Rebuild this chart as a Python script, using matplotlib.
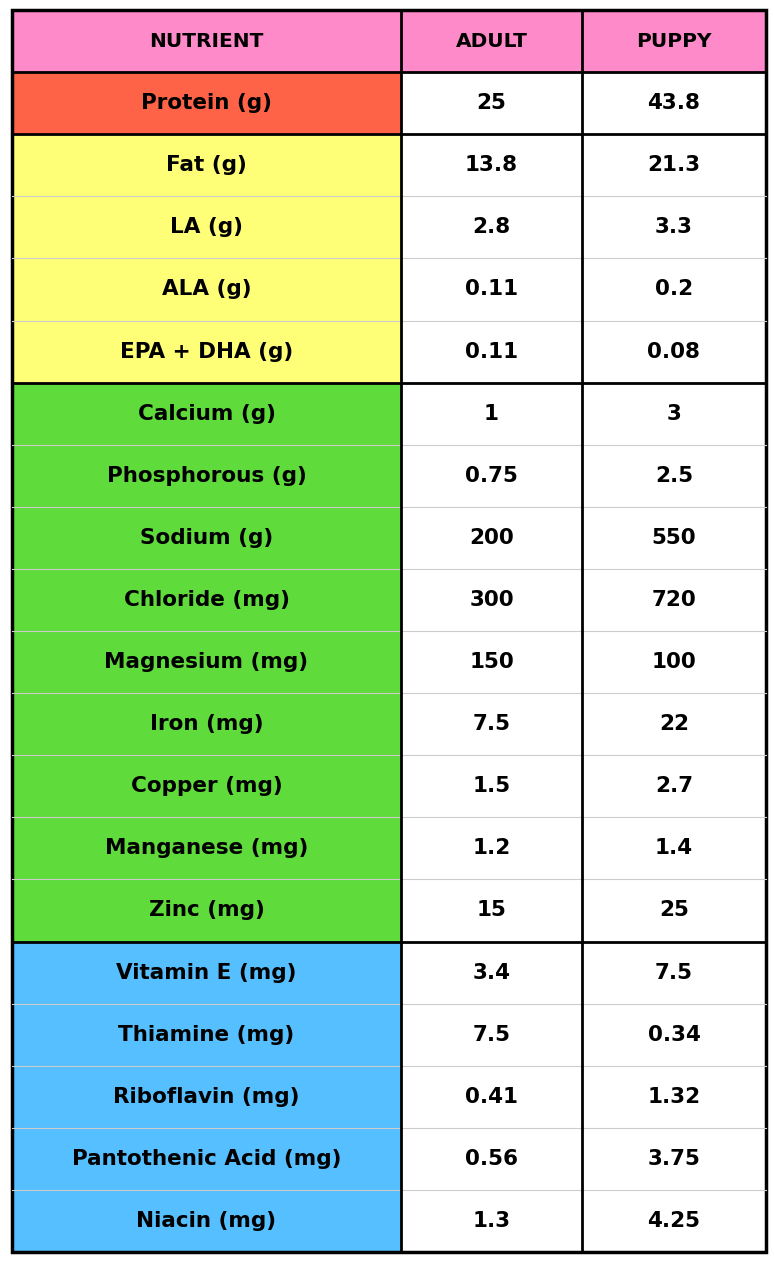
import matplotlib.pyplot as plt
from matplotlib.patches import Rectangle

header = ["NUTRIENT", "ADULT", "PUPPY"]
nutrients = ["Protein (g)", "Fat (g)", "LA (g)", "ALA (g)", "EPA + DHA (g)",
             "Calcium (g)", "Phosphorous (g)", "Sodium (g)", "Chloride (mg)",
             "Magnesium (mg)", "Iron (mg)", "Copper (mg)", "Manganese (mg)",
             "Zinc (mg)", "Vitamin E (mg)", "Thiamine (mg)", "Riboflavin (mg)",
             "Pantothenic Acid (mg)", "Niacin (mg)"]
adult = ["25", "13.8", "2.8", "0.11", "0.11", "1", "0.75", "200", "300", "150",
         "7.5", "1.5", "1.2", "15", "3.4", "7.5", "0.41", "0.56", "1.3"]
puppy = ["43.8", "21.3", "3.3", "0.2", "0.08", "3", "2.5", "550", "720", "100",
         "22", "2.7", "1.4", "25", "7.5", "0.34", "1.32", "3.75", "4.25"]
group_sizes = [1, 4, 9, 5]
group_colors = ["#FF6347", "#FFFF77", "#5FDB3B", "#55BFFF"]
header_color = "#FF8AC9"

W, H = 774, 1262
fig = plt.figure(figsize=(W / 100, H / 100), dpi=100)
ax = fig.add_axes([0, 0, 1, 1])
ax.set_xlim(0, W)
ax.set_ylim(H, 0)
ax.axis("off")

x0, x1, x2, x3 = 12, 401, 582, 766
top, bottom = 10, 1252
n = len(nutrients) + 1
rh = (bottom - top) / n
font = dict(family="DejaVu Sans", weight="bold", fontsize=15.5, ha="center", va="center")

# row colours per group
colors = []
for size, c in zip(group_sizes, group_colors):
    colors += [c] * size

# header
for xa, xb in [(x0, x1), (x1, x2), (x2, x3)]:
    ax.add_patch(Rectangle((xa, top), xb - xa, rh, color=header_color, lw=0))
for (xa, xb), t in zip([(x0, x1), (x1, x2), (x2, x3)], header):
    ax.text((xa + xb) / 2, top + rh / 2, t, **dict(font, fontsize=14.5))

for i, name in enumerate(nutrients):
    y = top + rh * (i + 1)
    ax.add_patch(Rectangle((x0, y), x1 - x0, rh, color=colors[i], lw=0))
    ax.add_patch(Rectangle((x1, y), x3 - x1, rh, color="white", lw=0))
    ax.text((x0 + x1) / 2, y + rh / 2, name, **font)
    ax.text((x1 + x2) / 2, y + rh / 2, adult[i], **font)
    ax.text((x2 + x3) / 2, y + rh / 2, puppy[i], **font)
    ax.plot([x0, x3], [y, y], color="#cccccc", lw=0.8)

# thick borders: header and group boundaries
idx = 1
ax.plot([x0, x3], [top + rh, top + rh], color="black", lw=2)
for size in group_sizes[:-1]:
    idx += size
    yb = top + rh * idx
    ax.plot([x0, x3], [yb, yb], color="black", lw=2)
for xv in [x1, x2]:
    ax.plot([xv, xv], [top, bottom], color="black", lw=2)
ax.add_patch(Rectangle((x0, top), x3 - x0, bottom - top, fill=False, ec="black", lw=2.5))

fig.savefig("out.png", dpi=100)
